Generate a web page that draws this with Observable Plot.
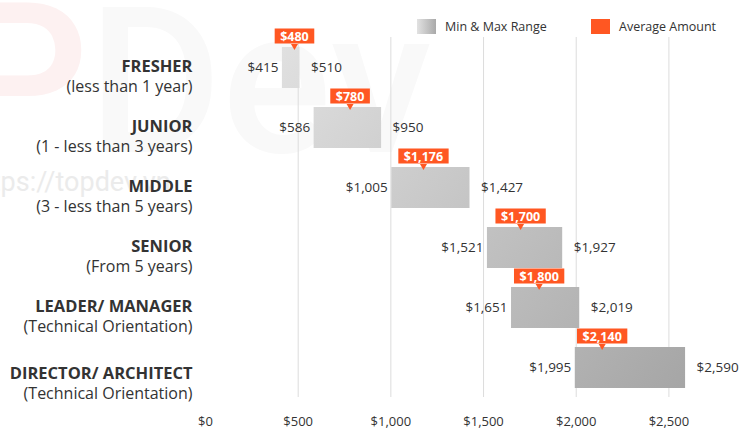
<!DOCTYPE html>
<html>
<head>
<meta charset="utf-8">
<script src="https://cdn.jsdelivr.net/npm/d3@7"></script>
<script src="https://cdn.jsdelivr.net/npm/@observablehq/plot@0.6"></script>
<style>
  html, body { margin: 0; padding: 0; background: #fff; }
  #wrap { position: relative; width: 755px; height: 441px; overflow: hidden; font-family: "Open Sans", Roboto, sans-serif; }
  #wm { position: absolute; left: 0; top: 0; }
  #chart { position: absolute; left: 0; top: 0; }
  #chart svg { background: transparent; }
  .legend { position: absolute; top: 19px; height: 15px; font-size: 12.5px; color: #333; display: flex; align-items: center; }
  .legend .sw { width: 19px; height: 15px; margin-right: 9px; }
</style>
</head>
<body>
<div id="wrap">
  <svg id="wm" width="755" height="441">
    <text x="-45" y="152" font-family="Roboto" font-size="210" font-weight="500" fill="#fdf1f1">P</text>
    <text x="88" y="152" font-family="Roboto" font-size="205" font-weight="500" fill="#f9f9f9">Dev</text>
    <text x="-32" y="191" font-family="Roboto" font-size="27" fill="#ebebeb">https://topdev.vn</text>
  </svg>
  <div id="chart"></div>
  <div class="legend" style="left:417px"><div class="sw" style="background:linear-gradient(to right,#e2e2e2,#a9a9a9)"></div>Min &amp; Max Range</div>
  <div class="legend" style="left:591px"><div class="sw" style="background:#ff5722"></div>Average Amount</div>
</div>
<script>
const levels = ["FRESHER", "JUNIOR", "MIDDLE", "SENIOR", "LEADER/ MANAGER", "DIRECTOR/ ARCHITECT"];
const subtitles = ["(less than 1 year)", "(1 - less than 3 years)", "(3 - less than 5 years)", "(From 5 years)", "(Technical Orientation)", "(Technical Orientation)"];
const mins = [415, 586, 1005, 1521, 1651, 1995];
const maxs = [510, 950, 1427, 1927, 2019, 2590];
const avgs = [480, 780, 1176, 1700, 1800, 2140];
const xTicks = [0, 500, 1000, 1500, 2000, 2500];

const rows = levels.map((l, i) => ({level: l, sub: subtitles[i], min: mins[i], max: maxs[i], avg: avgs[i], last: i === levels.length - 1}));
const fmt = v => "$" + d3.format(",")(v);
const orange = "#ff5722";
const font = "'Open Sans', Roboto, sans-serif";

const labelMarks = (data, shift) => [
  Plot.text(data, {y: "level", text: "level", frameAnchor: "left", textAnchor: "end", dx: -13, dy: -1 + shift, fontSize: 16.5, fontWeight: "bold", fill: "#333"}),
  Plot.text(data, {y: "level", text: "sub", frameAnchor: "left", textAnchor: "end", dx: -13, dy: 19 + shift, fontSize: 16, fill: "#333"})
];

const chart = Plot.plot({
  width: 755,
  height: 441,
  marginLeft: 205,
  marginRight: 31,
  marginTop: 37,
  marginBottom: 44,
  style: {fontFamily: font, background: "transparent", color: "#333"},
  x: {domain: [0, 2800], axis: null},
  y: {domain: levels, axis: null, paddingInner: 0.32, paddingOuter: 0.16},
  marks: [
    Plot.gridX(xTicks.filter(d => d > 0), {stroke: "#dcdcdc", strokeOpacity: 1, strokeWidth: 1}),
    Plot.axisX(xTicks, {tickSize: 0, tickPadding: 19, tickFormat: fmt, fontSize: 13, fill: "#333"}),
    Plot.barX(rows, {x1: "min", x2: "max", y: "level", fill: "url(#rangeGrad)"}),
    Plot.text(rows, {x: "min", y: "level", text: d => fmt(d.min), textAnchor: "end", dx: -4, fontSize: 13.5, fill: "#333"}),
    Plot.text(rows, {x: "max", y: "level", text: d => fmt(d.max), textAnchor: "start", dx: 11, fontSize: 13.5, fill: "#333"}),
    ...labelMarks(rows.filter(d => !d.last), 0),
    ...labelMarks(rows.filter(d => d.last), 7),
    Plot.dot(rows, {x: "avg", y: "level", symbol: "triangle", rotate: 180, r: 2.6, fill: orange, stroke: "none", dy: -22}),
    Plot.text(rows, {x: "avg", y: "level", text: d => fmt(d.avg), dy: -31.5, fontSize: 12.5, fontWeight: "bold", fill: "white", className: "avglab"})
  ]
});
document.getElementById("chart").appendChild(chart);

const svg = d3.select(chart);
const defs = svg.insert("defs", ":first-child");
const g = defs.append("linearGradient").attr("id", "rangeGrad").attr("gradientUnits", "userSpaceOnUse")
  .attr("x1", 280).attr("y1", 50).attr("x2", 690).attr("y2", 390);
g.append("stop").attr("offset", 0).attr("stop-color", "#e0e0e0");
g.append("stop").attr("offset", 1).attr("stop-color", "#a5a5a5");

// orange boxes behind average labels
svg.selectAll("g.avglab text").each(function() {
  const b = this.getBBox();
  const tr = d3.select(this).attr("transform");
  const cy = b.y + b.height / 2;
  d3.select(this.parentNode).insert("rect", () => this)
    .attr("x", b.x - 5.5).attr("y", cy - 7.5).attr("width", b.width + 11).attr("height", 15)
    .attr("transform", tr).attr("fill", orange);
});
</script>
</body>
</html>
